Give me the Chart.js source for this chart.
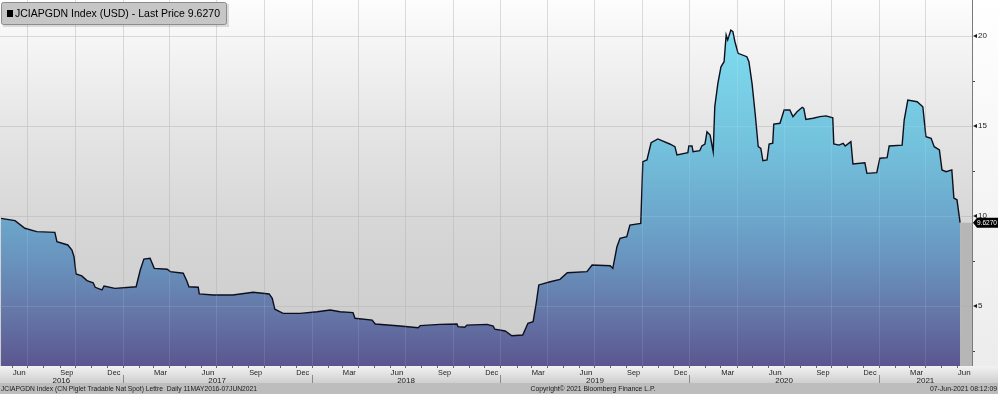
<!DOCTYPE html>
<html><head><meta charset="utf-8">
<script src="https://cdn.jsdelivr.net/npm/chart.js@4/dist/chart.umd.min.js"></script>
<style>html,body{margin:0;padding:0;background:#fff;overflow:hidden}canvas{display:block}</style>
</head><body>
<canvas id="c" width="998" height="394"></canvas>
<script>
// ---------- data ----------
const seriesTitle = 'JCIAPGDN Index (USD) - Last Price 9.6270';
const lastPriceLabel = '9.6270';
const lastPrice = 9.627;
const axisStart = '2016-05-09';
const axisEnd = '2021-06-30';
const dates = [
'2016-05-11','2016-06-07','2016-06-26','2016-07-19','2016-08-23','2016-08-27','2016-09-17','2016-09-25','2016-09-29','2016-10-03',
'2016-10-14','2016-10-24','2016-11-05','2016-11-09','2016-11-22','2016-11-26','2016-12-17','2017-01-27','2017-02-04','2017-02-11',
'2017-02-23','2017-03-03','2017-03-28','2017-04-03','2017-04-28','2017-05-05','2017-05-09','2017-05-27','2017-05-29','2017-06-25',
'2017-08-02','2017-09-10','2017-10-11','2017-10-17','2017-10-22','2017-11-07','2017-12-10','2018-01-12','2018-02-06','2018-02-25',
'2018-03-22','2018-03-26','2018-04-28','2018-05-04','2018-06-21','2018-07-26','2018-07-30','2018-09-06','2018-10-09','2018-10-11',
'2018-10-24','2018-10-28','2018-12-06','2018-12-18','2018-12-21','2019-01-10','2019-01-23','2019-02-13','2019-02-23','2019-03-05',
'2019-03-11','2019-03-16','2019-04-07','2019-04-26','2019-05-10','2019-06-17','2019-06-27','2019-08-01','2019-08-06','2019-08-14',
'2019-08-20','2019-09-02','2019-09-08','2019-09-29','2019-10-03','2019-10-11','2019-10-19','2019-11-01','2019-11-24','2019-12-04',
'2019-12-08','2019-12-29','2019-12-31','2020-01-06','2020-01-08','2020-01-21','2020-01-25','2020-01-31','2020-02-04','2020-02-10',
'2020-02-16','2020-02-19','2020-02-25','2020-03-02','2020-03-08','2020-03-12','2020-03-15','2020-03-21','2020-03-25','2020-03-29',
'2020-04-04','2020-04-21','2020-04-25','2020-05-01','2020-05-07','2020-05-13','2020-05-18','2020-05-22','2020-05-30','2020-06-03',
'2020-06-10','2020-06-12','2020-06-24','2020-07-02','2020-07-13','2020-07-19','2020-07-27','2020-08-06','2020-08-09','2020-08-13',
'2020-08-27','2020-09-09','2020-09-21','2020-10-04','2020-10-06','2020-10-16','2020-10-24','2020-10-28','2020-11-08','2020-11-12',
'2020-12-05','2020-12-09','2020-12-28','2021-01-03','2021-01-17','2021-01-21','2021-02-15','2021-02-19','2021-02-26','2021-03-16',
'2021-03-27','2021-04-02','2021-04-12','2021-04-18','2021-04-28','2021-05-03','2021-05-11','2021-05-22','2021-05-26','2021-06-01',
'2021-06-07'];
const values = [
9.87,9.74,9.32,9.13,9.09,8.57,8.39,8.11,7.74,6.78,
6.67,6.41,6.29,6.04,5.89,6.11,5.98,6.07,7.00,7.61,
7.65,7.09,7.04,6.91,6.82,6.39,6.07,6.04,5.67,5.61,
5.61,5.76,5.67,5.43,4.82,4.59,4.59,4.68,4.78,4.68,
4.63,4.32,4.22,4.00,3.89,3.79,3.91,3.98,4.00,3.85,
3.82,3.94,3.98,3.89,3.71,3.61,3.35,3.39,4.04,4.13,
5.15,6.17,6.35,6.48,6.85,6.91,7.28,7.24,7.09,8.29,
8.76,8.85,9.50,9.59,13.02,13.11,14.07,14.28,14.00,13.85,
13.39,13.52,13.89,13.89,13.57,13.63,13.89,14.00,14.68,14.50,
13.57,16.07,17.37,18.29,18.57,20.06,19.78,20.33,20.24,19.68,
19.04,18.85,18.57,17.37,15.71,13.85,13.76,13.07,13.11,14.00,
14.04,15.11,15.15,15.89,15.89,15.52,15.79,16.04,15.98,15.37,
15.43,15.52,15.56,15.46,14.00,13.94,14.04,13.89,14.13,12.89,
12.96,12.37,12.41,13.21,13.24,13.89,13.94,15.33,16.44,16.35,
16.07,14.41,14.32,13.85,13.67,12.56,12.46,12.56,11.00,10.90,
9.627];
const yTicks = [5,10,15,20];
const yMinorTicks = [2.5,7.5,12.5,17.5];
const monthTickDates = ['2016-06-15','2016-09-15','2016-12-15','2017-03-15','2017-06-15','2017-09-15','2017-12-15','2018-03-15','2018-06-15','2018-09-15','2018-12-15','2019-03-15','2019-06-15','2019-09-15','2019-12-15','2020-03-15','2020-06-15','2020-09-15','2020-12-15','2021-03-15','2021-06-15'];
const monthTickLabels = ['Jun','Sep','Dec','Mar','Jun','Sep','Dec','Mar','Jun','Sep','Dec','Mar','Jun','Sep','Dec','Mar','Jun','Sep','Dec','Mar','Jun'];
const yearLabels = ['2016','2017','2018','2019','2020','2021'];
const footerLeft = 'JCIAPGDN Index (CN Piglet Tradable Nat Spot) Lettre  Daily 11MAY2016-07JUN2021';
const footerMid = 'Copyright\u00A9 2021 Bloomberg Finance L.P.';
const footerRight = '07-Jun-2021 08:12:09';

// ---------- helpers ----------
const DAY0 = Date.UTC(2016,4,11);
function dayOf(s){const p=s.split('-').map(Number);return (Date.UTC(p[0],p[1]-1,p[2])-DAY0)/86400000;}
const points = dates.map((d,i)=>({x:dayOf(d),y:values[i]}));
const FONT = '"Liberation Sans", Arial, sans-serif';

function fillGrad(chart){
  const a = chart.chartArea; if(!a) return '#6aa6cb';
  const g = chart.ctx.createLinearGradient(0,a.top,0,a.bottom);
  g.addColorStop(0,'#88e8f8'); g.addColorStop(0.1,'#7edcef'); g.addColorStop(0.4,'#73c1dc');
  g.addColorStop(0.6,'#6ca6cb'); g.addColorStop(0.72,'#6892bd'); g.addColorStop(0.85,'#6578a8');
  g.addColorStop(1,'#5b5690');
  return g;
}

const bbg = {
  id:'bbg',
  beforeDraw(chart){
    const ctx=chart.ctx, a=chart.chartArea, W=chart.width, H=chart.height;
    ctx.save();
    ctx.fillStyle='#ffffff'; ctx.fillRect(0,0,W,H);
    let g=ctx.createLinearGradient(0,a.top,0,a.bottom);
    g.addColorStop(0,'#fdfdfd'); g.addColorStop(0.35,'#e5e5e5'); g.addColorStop(0.6,'#d7d7d7'); g.addColorStop(1,'#cacaca');
    ctx.fillStyle=g; ctx.fillRect(a.left,a.top,a.right-a.left,a.bottom-a.top);
    // right axis area
    g=ctx.createLinearGradient(0,0,0,a.bottom);
    g.addColorStop(0,'#ffffff'); g.addColorStop(1,'#ececec');
    ctx.fillStyle=g; ctx.fillRect(a.right,0,W-a.right,a.bottom);
    // bottom band
    g=ctx.createLinearGradient(0,a.bottom,0,383);
    g.addColorStop(0,'#f2f2f2'); g.addColorStop(1,'#cfcfcf');
    ctx.fillStyle=g; ctx.fillRect(0,a.bottom,W,383-a.bottom);
    ctx.fillStyle='#bdbdbd'; ctx.fillRect(0,383,W,H-383);
    ctx.restore();
  },
  beforeDatasetsDraw(chart){
    const ctx=chart.ctx, a=chart.chartArea, xs=chart.scales.x, ys=chart.scales.y;
    ctx.save();
    // gray strip beyond last data
    const xe = xs.getPixelForValue(points[points.length-1].x);
    ctx.fillStyle='#b6b6b6';
    ctx.fillRect(xe,ys.getPixelForValue(lastPrice),a.right-xe,a.bottom-ys.getPixelForValue(lastPrice));
    ctx.strokeStyle='rgba(150,150,150,0.35)'; ctx.lineWidth=1;
    for(const t of yTicks){const y=Math.round(ys.getPixelForValue(t))+0.5;ctx.beginPath();ctx.moveTo(a.left,y);ctx.lineTo(a.right,y);ctx.stroke();}
    for(let yr=2016;yr<=2021;yr++) for(const m of [1,4,7,10]){
      const d=dayOf(yr+'-'+String(m).padStart(2,'0')+'-01'); if(d<xs.min||d>xs.max) continue;
      const x=Math.round(xs.getPixelForValue(d))+0.5; ctx.beginPath();ctx.moveTo(x,a.top);ctx.lineTo(x,a.bottom);ctx.stroke();
    }
    ctx.restore();
  },
  afterDatasetsDraw(chart){
    const ctx=chart.ctx, a=chart.chartArea, xs=chart.scales.x, ys=chart.scales.y, W=chart.width;
    ctx.save();
    // faint grid over fill
    ctx.strokeStyle='rgba(255,255,255,0.10)'; ctx.lineWidth=1;
    for(const t of yTicks){const y=Math.round(ys.getPixelForValue(t))+0.5;ctx.beginPath();ctx.moveTo(a.left,y);ctx.lineTo(a.right,y);ctx.stroke();}
    for(let yr=2016;yr<=2021;yr++) for(const m of [1,4,7,10]){
      const d=dayOf(yr+'-'+String(m).padStart(2,'0')+'-01'); if(d<xs.min||d>xs.max) continue;
      const x=Math.round(xs.getPixelForValue(d))+0.5; ctx.beginPath();ctx.moveTo(x,a.top);ctx.lineTo(x,a.bottom);ctx.stroke();
    }
    // right axis line
    ctx.strokeStyle='#7a7a7a'; ctx.beginPath(); ctx.moveTo(a.right+0.5,0); ctx.lineTo(a.right+0.5,a.bottom); ctx.stroke();
    // y ticks
    ctx.fillStyle='#1a1a1a'; ctx.font='8px '+FONT; ctx.textBaseline='middle'; ctx.textAlign='left';
    for(const t of yTicks){
      const y=ys.getPixelForValue(t);
      ctx.beginPath(); ctx.moveTo(a.right+1,y); ctx.lineTo(a.right+5,y-2); ctx.lineTo(a.right+5,y+2); ctx.closePath(); ctx.fill();
      ctx.fillText(String(t),a.right+6,y);
    }
    ctx.strokeStyle='#444';
    for(const t of yMinorTicks){const y=Math.round(ys.getPixelForValue(t))+0.5;ctx.beginPath();ctx.moveTo(a.right+1,y);ctx.lineTo(a.right+3,y);ctx.stroke();}
    // last price tag
    const yp=ys.getPixelForValue(lastPrice);
    ctx.fillStyle='#000';
    ctx.beginPath(); ctx.moveTo(a.right+1,yp); ctx.lineTo(a.right+5,yp-5); ctx.lineTo(W,yp-5); ctx.lineTo(W,yp+5); ctx.lineTo(a.right+5,yp+5); ctx.closePath(); ctx.fill();
    ctx.fillStyle='#fff'; ctx.font='8px '+FONT; ctx.fillText(lastPriceLabel,a.right+5,yp+0.5,W-a.right-6);
    // month tick marks
    ctx.strokeStyle='#666';
    for(let yr=2016;yr<=2021;yr++) for(let m=1;m<=12;m++){
      const d=dayOf(yr+'-'+String(m).padStart(2,'0')+'-01'); if(d<xs.min||d>xs.max) continue;
      const x=Math.round(xs.getPixelForValue(d))+0.5; ctx.beginPath();ctx.moveTo(x,a.bottom);ctx.lineTo(x,a.bottom+2);ctx.stroke();
    }
    // month labels
    ctx.fillStyle='#222'; ctx.font='8px '+FONT; ctx.textAlign='center'; ctx.textBaseline='middle';
    monthTickDates.forEach((d,i)=>{const x=xs.getPixelForValue(dayOf(d)); ctx.fillText(monthTickLabels[i],x,372.5,13);});
    // year separators and labels
    ctx.strokeStyle='#8a8a8a';
    yearLabels.forEach(yl=>{
      const s=Math.max(dayOf(yl+'-01-01'),xs.min), e=Math.min(dayOf((+yl+1)+'-01-01'),xs.max);
      const xsPix=xs.getPixelForValue(s), xePix=xs.getPixelForValue(e);
      if(dayOf(yl+'-01-01')>xs.min){const x=Math.round(xsPix)+0.5;ctx.beginPath();ctx.moveTo(x,375);ctx.lineTo(x,383);ctx.stroke();}
      ctx.fillText(yl,(xsPix+xePix)/2,380.5,20);
    });
    // footer
    ctx.fillStyle='#1a1a1a'; ctx.font='8px '+FONT; ctx.textBaseline='middle';
    ctx.textAlign='left'; ctx.fillText(footerLeft,1,389,256);
    ctx.textAlign='center'; ctx.fillText(footerMid,593,389,125);
    ctx.textAlign='right'; ctx.fillText(footerRight,997,389,67);
    // legend box
    ctx.fillStyle='rgba(0,0,0,0.12)'; ctx.fillRect(3,4,226,23);
    ctx.fillStyle='#c6c6c6'; ctx.strokeStyle='#8c8c8c';
    ctx.beginPath(); ctx.roundRect(1.5,2.5,225,22,2); ctx.fill(); ctx.stroke();
    ctx.fillStyle='#000'; ctx.fillRect(7,10,6,7);
    ctx.font='11px '+FONT; ctx.textAlign='left'; ctx.textBaseline='middle';
    ctx.fillText(seriesTitle.replace(/^/,''),15,14,205);
    ctx.restore();
  }
};

new Chart(document.getElementById('c'),{
  type:'line',
  data:{datasets:[{data:points,borderColor:'#0e0f1c',borderWidth:1.4,pointRadius:0,tension:0,fill:'start',
    backgroundColor:(c)=>fillGrad(c.chart)}]},
  options:{
    responsive:false, animation:false, devicePixelRatio:1,
    layout:{padding:{left:0,top:0,right:26,bottom:28}},
    scales:{
      x:{type:'linear',display:false,min:dayOf(axisStart),max:dayOf(axisEnd)},
      y:{type:'linear',display:false,min:1.667,max:22}
    },
    plugins:{legend:{display:false},tooltip:{enabled:false}}
  },
  plugins:[bbg]
});
</script>
</body></html>
